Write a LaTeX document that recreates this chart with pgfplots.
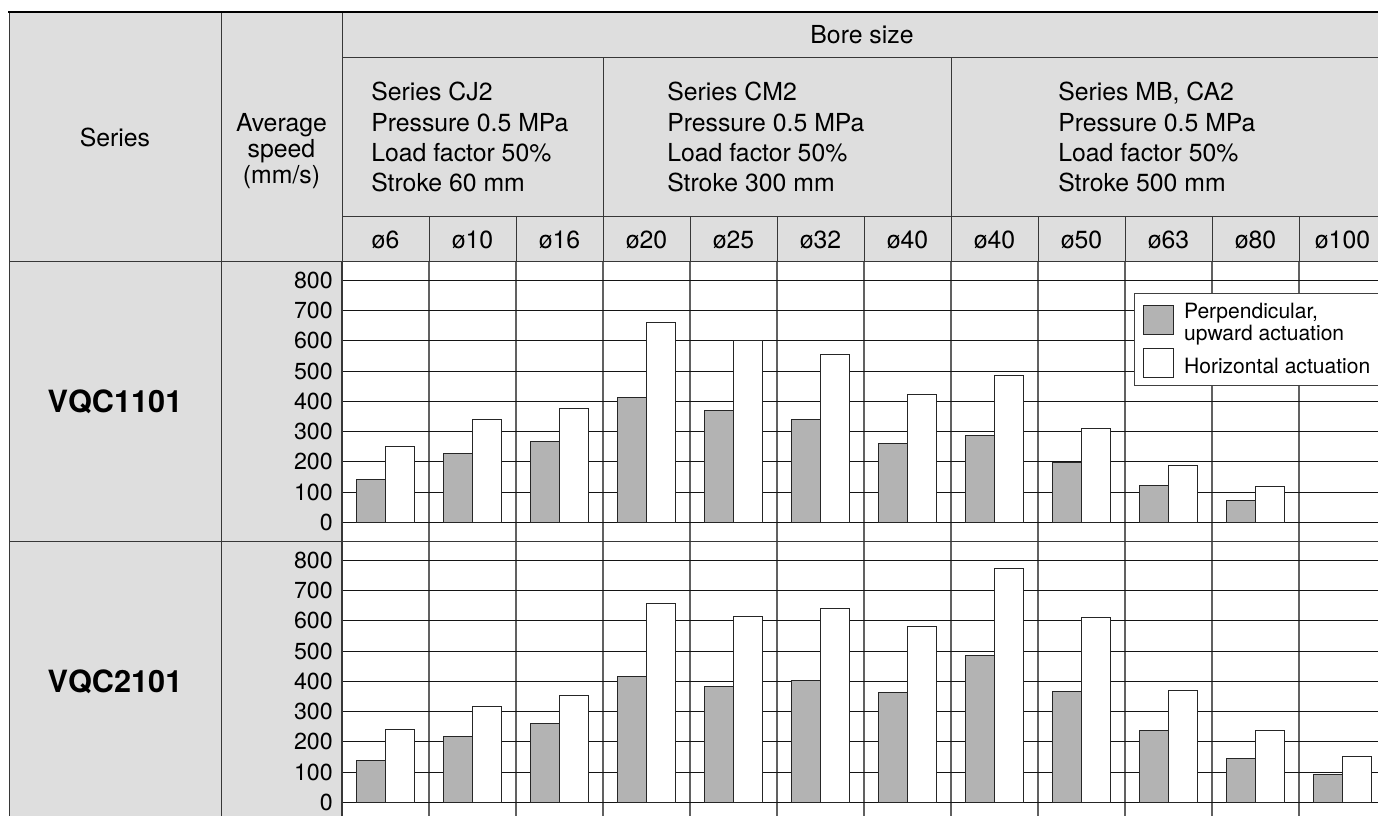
\documentclass[border=0pt]{standalone}
\usepackage{pgfplots}
\pgfplotsset{compat=1.18}
\usepackage{pgfplotstable}
\usepackage{fontspec}
\setmainfont{TeX Gyre Heros}

\definecolor{hdr}{RGB}{222,222,222}
\definecolor{barg}{RGB}{179,179,179}
\definecolor{rule}{RGB}{55,55,55}

\newcommand\hfont{\fontsize{18.6}{22.9}\selectfont}
\newcommand\tfont{\fontsize{17.4}{20}\selectfont}
\newcommand\lfont{\fontsize{15.8}{16.5}\selectfont}
\newcommand\nfont{\fontsize{23}{26}\selectfont\bfseries}

% average speed (mm/s), one row per bore size
\pgfplotstableread{
x perp horiz
0 141 250
1 226 339
2 268 377
3 411 660
4 369 602
5 339 555
6 261 423
7 288 485
8 197 309
9 121 188
10 73 117
}\vqcone
\pgfplotstableread{
x perp horiz
0 138 240
1 216 318
2 262 354
3 415 657
4 384 615
5 403 642
6 362 582
7 485 773
8 367 610
9 237 370
10 144 238
11 92 150
}\vqctwo

\pgfplotsset{
  speedrow/.style={
    scale only axis, width=783pt, height=210pt,
    anchor=north west,
    xmin=-0.5, xmax=11.5, ymin=-62.8, ymax=862.8,
    xtick={-0.5,0.5,...,11.5}, xticklabels={},
    ytick={0,100,...,800},
    major tick length=0pt,
    xmajorgrids, ymajorgrids,
    x grid style={black!62, line width=1pt},
    y grid style={black!92, line width=0.8pt},
    axis line style={rule, line width=0.9pt},
    tick label style={font=\tfont},
    /pgf/number format/assume math mode=true,
    yticklabel style={xshift=-3.4pt},
  },
  perpbar/.style={ybar, bar width=21.75pt, bar shift=-10.875pt,
    fill=barg, draw=black!85, line width=0.75pt},
  horizbar/.style={ybar, bar width=21.75pt, bar shift=10.875pt,
    fill=white, draw=black!85, line width=0.75pt},
}

\begin{document}
\begin{tikzpicture}
\useasboundingbox (0,0) rectangle (1033.5pt,-611.25pt);
\clip (0,0) rectangle (1033.5pt,-611.25pt);
\fill[white] (0,0) rectangle (1033.5pt,-611.25pt);

\begin{scope}[x=0.75pt, y=-0.75pt]
  \fill[hdr] (9.3,12) rectangle (1390,261.3);
  \fill[hdr] (9.3,261.3) rectangle (342,830);
  \draw[rule, line width=0.75pt]
    (342,57) -- (1390,57)
    (342,216) -- (1390,216)
    (9.3,261.3) -- (342,261.3)
    (9.3,541.3) -- (342,541.3)
    (9.3,12) -- (9.3,830)
    (221,12) -- (221,830)
    (342,12) -- (342,830)
    (603,57) -- (603,216)
    (951,57) -- (951,216);
  \foreach \i in {1,...,11}
    \draw[rule, line width=0.75pt] ({342+87*\i},216) -- ({342+87*\i},261.3);
  \draw[black, line width=1.9pt] (8.3,12) -- (1390,12);

  \begin{scope}[every node/.style={inner sep=0pt, font=\hfont}]
    \node[anchor=base] at (115,146) {Series};
    \node[anchor=base] at (281.5,131) {Average};
    \node[anchor=base] at (281.5,157) {speed};
    \node[anchor=base] at (281.5,183) {(mm/s)};
    \node[anchor=base] at (862,43) {Bore size};
    \foreach \x/\a/\b in {371/CJ2/60, 667/CM2/300, 1058/{MB, CA2}/500} {
      \node[anchor=base west] at (\x,100) {Series \a};
      \node[anchor=base west] at (\x,131) {Pressure 0.5 MPa};
      \node[anchor=base west] at (\x,161.5) {Load factor 50\%};
      \node[anchor=base west] at (\x,191.7) {Stroke \b\ mm};
    }
    \foreach \lab [count=\i from 0] in {6,10,16,20,25,32,40,40,50,63,80,100}
      \node[anchor=base] at ({342+87*(\i+0.5)},248.3) {ø\lab};
    \node[font=\nfont] at (115,401.3) {VQC1101};
    \node[font=\nfont] at (115,681.5) {VQC2101};
  \end{scope}

  \coordinate (r1) at (342,261.3);
  \coordinate (r2) at (342,541.3);
\end{scope}

\begin{axis}[speedrow, at={(r1)},
  legend style={at={(0.7586,0.8868)}, anchor=north west,
    draw=black!75, line width=0.75pt, fill=white, font=\lfont,
    inner xsep=6.75pt, inner ysep=5.2pt, row sep=9.4pt, column sep=5.5pt,
    cells={anchor=base west, inner sep=0pt}},
  legend image code/.code={\draw[#1, line width=0.75pt] (0pt,-3.7pt) rectangle (22.2pt,18.5pt);},
]
\addplot[perpbar] table[x=x, y=perp] {\vqcone};
\addlegendentry{\begin{tabular}[c]{@{}l@{}}Perpendicular,\\upward actuation\end{tabular}}
\addplot[horizbar] table[x=x, y=horiz] {\vqcone};
\addlegendentry{Horizontal actuation}
\end{axis}

\begin{axis}[speedrow, at={(r2)}]
\addplot[perpbar] table[x=x, y=perp] {\vqctwo};
\addplot[horizbar] table[x=x, y=horiz] {\vqctwo};
\end{axis}
\end{tikzpicture}
\end{document}
